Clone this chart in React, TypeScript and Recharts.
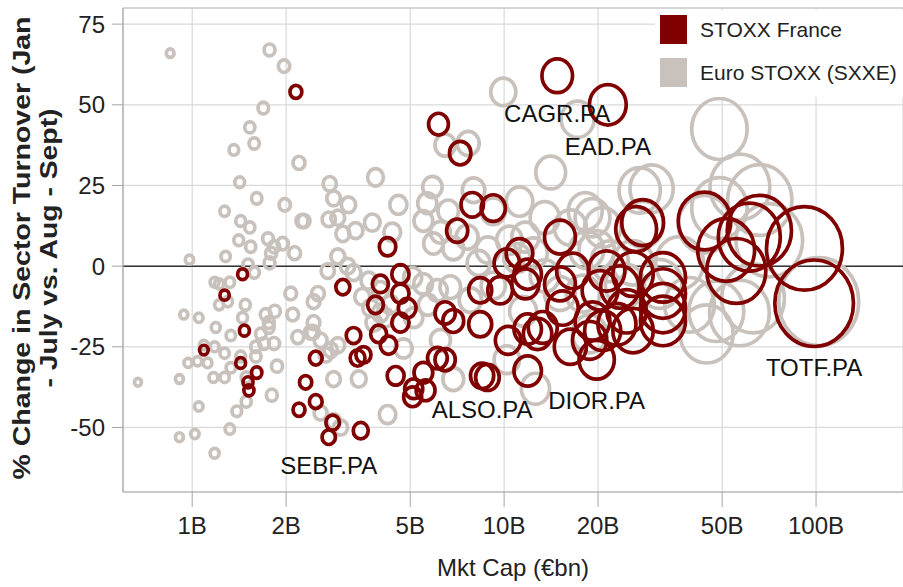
import React from "react"
import { ScatterChart, Scatter, XAxis, YAxis, ZAxis, CartesianGrid, ReferenceLine } from "recharts"

// [market cap in €bn, % change in sector turnover]
const stoxxFrance: [number, number][] = [
  [2.15, 54], [6.16, 44], [7.23, 35], [7.9, 19], [9.23, 18], [14.8, 59], [21.5, 50],
  [4.23, 6], [4.65, -2.5], [3.04, -6.5], [4.01, -5.5], [4.65, -8.5], [1.45, -2.5], [1.27, -9],
  [1.47, -20], [1.09, -26], [1.43, -30], [1.61, -33], [1.51, -36], [1.52, -38.5], [2.49, -28.5],
  [2.31, -36], [2.2, -44.5], [2.49, -42], [2.82, -48.5], [2.74, -53], [3.47, -51], [4.65, -17.5],
  [3.96, -21], [4.26, -24.5], [3.29, -21.5], [3.39, -28.5], [3.54, -27.5], [4.49, -34], [5.13, -38],
  [5.6, -38.5], [5.51, -33], [5.09, -40.5], [6.11, -28.5], [6.47, -29], [6.47, -14.5], [6.87, -17],
  [4.89, -13], [3.87, -12], [7.07, 11], [15.1, 9], [16.6, -1.5], [11.9, -2.5], [10.2, 1], [11.2, 4],
  [21.3, -1.5], [25.9, -2.5], [8.38, -7.5], [9.71, -7.5], [11.7, -5.5], [15.1, -5.5], [20.3, -7.5],
  [23.5, -6.5], [8.38, -18], [10.3, -23], [11.9, -19.5], [12.8, -21], [13.3, -19], [11.9, -32.5],
  [8.5, -34], [8.84, -34.5], [15.4, -13], [16.3, -25], [18.8, -23], [19.8, -29], [20.7, -20],
  [23, -18], [24.7, -14], [19.2, -17], [27.8, 13.5], [26.5, 11.5], [43.9, 14], [61.1, 9],
  [65.8, 11], [51.5, 5], [55.5, -1.5], [32.3, -3.5], [32.3, -8.5], [32.3, -13], [32.3, -17],
  [25.9, -20], [91.8, 5.5], [98.6, -11.5],
]

const euroStoxx: [number, number][] = [
  [0.67, -36], [0.85, 66], [1.77, 67], [1.97, 62], [1.69, 49], [1.53, 43], [1.36, 36], [1.58, 38],
  [2.2, 32], [1.42, 26], [1.61, 21], [1.27, 17], [1.98, 19], [2.25, 14], [1.43, 14], [1.53, 12],
  [1.41, 8], [1.54, 6], [1.28, 3], [0.98, 2], [1.75, 8.5], [1.83, 6], [1.95, 7], [1.79, 4],
  [1.77, 1], [2.13, 4], [1.51, 0.5], [1.58, -2], [1.18, -5], [1.22, -5.5], [1.32, -5], [2.07, -8.5],
  [2.45, -11], [1.22, -12], [1.3, -11], [1.48, -12], [0.94, -15], [1.05, -16], [1.45, -16],
  [1.72, -15], [1.84, -14], [1.76, -17.5], [2.1, -15], [2.45, -17.5], [1.19, -19], [1.33, -21.5],
  [1.66, -21], [1.76, -19], [1.83, -24], [1.7, -24], [1.6, -25], [2.18, -22], [2.44, -20.5],
  [1.18, -25], [1.09, -24.5], [1.27, -27], [0.97, -30], [1.04, -29.5], [1.12, -30], [1.43, -28],
  [1.6, -28], [1.33, -31.5], [0.91, -35], [1.17, -34.5], [1.27, -34.5], [1.49, -34.5], [1.87, -31],
  [1.8, -40], [1.49, -42], [1.39, -45], [1.05, -43.5], [1.32, -50.5], [0.91, -53], [1.02, -52],
  [1.18, -58],
  [2.76, 25.5], [2.84, 21], [3.17, 19], [2.74, 14.5], [2.93, 15], [3.04, 10], [3.34, 11],
  [3.78, 13.5], [3.87, 27.5], [4.58, 19], [4.38, 10.5], [2.28, 14], [2.93, 3], [2.72, -1.5],
  [3.15, 0], [3.29, -2], [2.53, -8.5], [3.68, -4.5], [4.01, -7.5], [5.09, -3.5], [5.5, -5.5],
  [6.11, -7.5], [6.72, -6.5], [5.89, 24.5], [5.67, 19.5], [5.51, 14], [6.62, 17], [6.25, 10.5],
  [5.93, 7], [6.87, 5.5], [6.47, 37.5], [7.67, 38], [2.4, -20.5], [2.58, -23], [2.78, -26],
  [2.93, -24.5], [2.68, -27.5], [2.84, -35], [3.42, -35], [4.23, -46], [2.58, -45.5], [2.84, -48],
  [2.99, -50], [3.73, -13], [4.01, -14.5], [4.32, -12], [3.82, -17.5], [4.17, -16], [4.76, -25.5],
  [5.7, -12], [6.25, -23], [6.87, -35], [3.51, -9.5], [5.13, -16],
  [9.94, 54], [17.2, 45.5], [14.1, 29], [29.7, 24], [49, 42.5], [57, 24.5], [66, 20.5], [49, 18],
  [43.9, 13], [7.98, 23.5], [11.2, 20], [9.23, 17], [13.5, 15], [18.2, 17], [19.2, 15], [20.7, 12],
  [27.2, 23.5], [16.3, 12], [7.61, 9], [8.87, 5], [10.4, 8], [11.7, 9], [12.4, 4], [19.8, 5],
  [21.8, 1.5], [11, 2.5], [18.4, 5], [25.9, 1], [27.8, 13], [31.5, -5.5], [36.5, 1], [44.6, -21],
  [62.8, -10], [47.9, -14], [102, -11], [11.5, -14], [10.2, -29], [12.6, -38], [18.8, -21],
  [15.1, -8.5], [17.9, -8.5], [7.79, -10.5], [13.5, -3], [24.4, -6], [39.3, -12], [70.8, 8],
  [56.8, -14.5], [8.28, 1], [9.23, -6],
]

const tickerLabels = [
  { name: "CAGR.PA", cap: 14.8, change: 59 },
  { name: "EAD.PA", cap: 21.5, change: 50 },
  { name: "ALSO.PA", cap: 8.5, change: -34 },
  { name: "DIOR.PA", cap: 19.8, change: -29 },
  { name: "TOTF.PA", cap: 98.6, change: -11.5 },
  { name: "SEBF.PA", cap: 2.74, change: -53 },
]

const xTicks = [1, 2, 5, 10, 20, 50, 100]
const xMinorTicks = [3, 4, 6, 7, 8, 9, 30, 40, 60, 70, 80, 90]
const yTicks = [-50, -25, 0, 25, 50, 75]

const RED = "#800000"
const GREY = "#c8c1bc"
const FONT = "'Liberation Sans', Arial, sans-serif"

const toPoints = (arr: [number, number][]) => arr.map(([cap, change]) => ({ cap, change }))

// hollow bubble, a little taller than wide like the source image
const ring = (color: string) => (props: any) => {
  const { cx, cy, width, size } = props
  const rx = width ? width / 2 : Math.sqrt((size || 0) / Math.PI)
  return <ellipse cx={cx} cy={cy} rx={rx} ry={rx * 1.1} fill="none" stroke={color} strokeWidth={3.7} />
}

const tickerText = (props: any) => {
  const { cx, cy, width, payload } = props
  const ry = (width / 2) * 1.1
  return (
    <text x={cx} y={cy + ry + 21} textAnchor="middle" dominantBaseline="central" fontSize={24} fill="#111" fontFamily={FONT}>
      {payload.name}
    </text>
  )
}

const YLabel = () => (
  <g fontFamily={FONT} fontWeight="bold" fontSize={24} fill="#222">
    <text transform="translate(30,248) rotate(-90)" textAnchor="middle" textLength={463} lengthAdjust="spacingAndGlyphs">
      % Change in Sector Turnover (Jan
    </text>
    <text transform="translate(57,248) rotate(-90)" textAnchor="middle" textLength={279} lengthAdjust="spacingAndGlyphs">
      - July vs. Aug - Sept)
    </text>
  </g>
)

const legendItems = [
  { name: "STOXX France", color: RED },
  { name: "Euro STOXX (SXXE)", color: GREY },
]

export default function App() {
  return (
    <div style={{ position: "absolute", left: 0, top: 0, width: 903, height: 587, background: "#fff", fontFamily: FONT }}>
      <ScatterChart width={903} height={587} margin={{ top: 8, right: 0, bottom: 0, left: 0 }}>
        <CartesianGrid stroke="#d9d9d9" strokeWidth={1.2} />
        <XAxis
          xAxisId="minor"
          dataKey="cap"
          type="number"
          scale="log"
          domain={[0.6, 190]}
          allowDataOverflow
          ticks={xMinorTicks}
          interval={0}
          tick={false}
          axisLine={false}
          tickLine={{ stroke: "#a6a6a6" }}
          tickSize={7}
          height={0}
        />
        <XAxis
          dataKey="cap"
          type="number"
          scale="log"
          domain={[0.6, 190]}
          allowDataOverflow
          ticks={xTicks}
          interval={0}
          tickFormatter={(v) => `${v}B`}
          tick={{ fontSize: 24, fill: "#222" }}
          axisLine={{ stroke: "#a6a6a6", strokeWidth: 1.2 }}
          tickLine={{ stroke: "#a6a6a6" }}
          tickSize={15}
          tickMargin={10}
          height={95}
          label={{ value: "Mkt Cap (€bn)", position: "insideBottom", offset: 11, fontSize: 24, fill: "#222" }}
        />
        <YAxis
          dataKey="change"
          type="number"
          domain={[-70, 80]}
          allowDataOverflow
          ticks={yTicks}
          interval={0}
          tick={{ fontSize: 24, fill: "#222" }}
          axisLine={{ stroke: "#a6a6a6", strokeWidth: 1.2 }}
          tickLine={{ stroke: "#a6a6a6" }}
          tickSize={11}
          tickMargin={7}
          width={123}
          label={{ content: YLabel }}
        />
        <ZAxis dataKey="cap" type="number" domain={[0, 100]} range={[5, 5027]} />
        <ReferenceLine y={80} stroke="#bdbdbd" strokeWidth={1.2} />
        <ReferenceLine y={0} stroke="#333" strokeWidth={1.5} />
        <Scatter name="Euro STOXX (SXXE)" data={toPoints(euroStoxx)} shape={ring(GREY)} isAnimationActive={false} />
        <Scatter name="STOXX France" data={toPoints(stoxxFrance)} shape={ring(RED)} isAnimationActive={false} />
        <Scatter name="labels" data={tickerLabels} shape={tickerText} isAnimationActive={false} />
      </ScatterChart>
      <div style={{ position: "absolute", left: 655, top: 10, width: 248, height: 87, background: "#fff" }}>
        {legendItems.map((item, i) => (
          <div key={item.name} style={{ position: "absolute", left: 5, top: 5 + i * 43, height: 29, display: "flex", alignItems: "center" }}>
            <span style={{ display: "inline-block", width: 27, height: 29, background: item.color, marginRight: 13 }} />
            <span style={{ fontSize: 21, color: "#222" }}>{item.name}</span>
          </div>
        ))}
      </div>
    </div>
  )
}
